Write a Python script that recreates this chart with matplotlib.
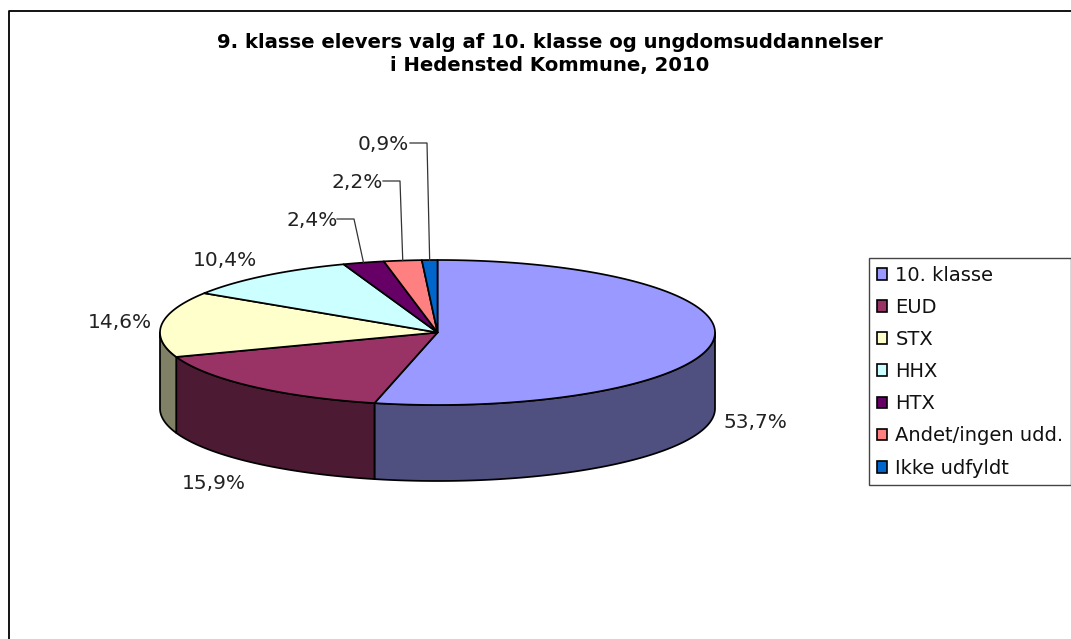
import numpy as np
import matplotlib
matplotlib.use('Agg')
import matplotlib.pyplot as plt
from matplotlib.patches import Patch, Polygon

categories = ['10. klasse', 'EUD', 'STX', 'HHX', 'HTX', 'Andet/ingen udd.', 'Ikke udfyldt']
values = [53.7, 15.9, 14.6, 10.4, 2.4, 2.2, 0.9]
value_labels = ['53,7%', '15,9%', '14,6%', '10,4%', '2,4%', '2,2%', '0,9%']
top_colors = ['#9999FF', '#993366', '#FFFFCC', '#CCFFFF', '#660066', '#FF8080', '#0066CC']
side_colors = ['#4F4F80', '#4D1A33', '#808066', '#668080', '#330033', '#804040', '#003366']

# pie geometry in pixels
cx, cy = 437.5, 332.5
rx, ry = 277.5, 72.5
depth = 76

# label centres, leader knee for the small slices
label_pos = [(755, 423), (214, 483.5), (120, 323), (225, 260), (312, 220.5), (357, 182.5), (383, 144.5)]
leaders = {4: (354, 219), 5: (400, 181), 6: (427, 143)}

plt.rcParams['font.family'] = ['DejaVu Sans']

fig = plt.figure(figsize=(10.71, 6.39), dpi=100)
ax = fig.add_axes([0, 0, 1, 1])
ax.set_xlim(0, 1071)
ax.set_ylim(639, 0)
ax.axis('off')

# chart frame only shows on top and left in the crop
ax.plot([8.5, 8.5, 1071], [639, 10.5, 10.5], color='black', lw=1.3, solid_capstyle='butt')


def rim(a, b, dy=0):
    t = np.radians(np.linspace(a, b, max(int(abs(b - a) * 2), 2)))
    return np.column_stack([cx + rx * np.sin(t), cy - ry * np.cos(t) + dy])


edges = np.concatenate([[0], np.cumsum(values)]) / np.sum(values) * 360

# side walls, only the front half of the rim is visible
for i in range(len(values)):
    a, b = max(edges[i], 90), min(edges[i + 1], 270)
    if b > a:
        pts = np.vstack([rim(a, b), rim(a, b, depth)[::-1]])
        ax.add_patch(Polygon(pts, closed=True, fc=side_colors[i], ec='black', lw=1.25, joinstyle='round'))

for i in range(len(values)):
    pts = np.vstack([[[cx, cy]], rim(edges[i], edges[i + 1])])
    ax.add_patch(Polygon(pts, closed=True, fc=top_colors[i], ec='black', lw=1.25, joinstyle='round'))

for i, lab in enumerate(value_labels):
    ax.text(label_pos[i][0], label_pos[i][1], lab, ha='center', va='center', fontsize=14.5, color='#222222')
    if i in leaders:
        knee = leaders[i]
        end = rim((edges[i] + edges[i + 1]) / 2, (edges[i] + edges[i + 1]) / 2 + 0.01)[0]
        ax.plot([knee[0] - 17, knee[0], end[0]], [knee[1], knee[1], end[1]], color='#333333', lw=0.9)

ax.text(549.5, 54, '9. klasse elevers valg af 10. klasse og ungdomsuddannelser\ni Hedensted Kommune, 2010',
        ha='center', va='center', fontsize=14.1, fontweight='bold', color='black', linespacing=1.2)

handles = [Patch(fc=c, ec='black', lw=1.2) for c in top_colors]
leg = ax.legend(handles, categories, loc='upper left', bbox_to_anchor=(869, 258), bbox_transform=ax.transData,
                fontsize=14, frameon=True, fancybox=False, edgecolor='#444444', framealpha=1,
                borderaxespad=0, borderpad=0.4, labelspacing=0.675, handlelength=0.55, handleheight=0.55,
                handletextpad=0.41, labelcolor='#111111')
leg.get_frame().set_linewidth(1.0)

fig.savefig('out.png', dpi=100)
